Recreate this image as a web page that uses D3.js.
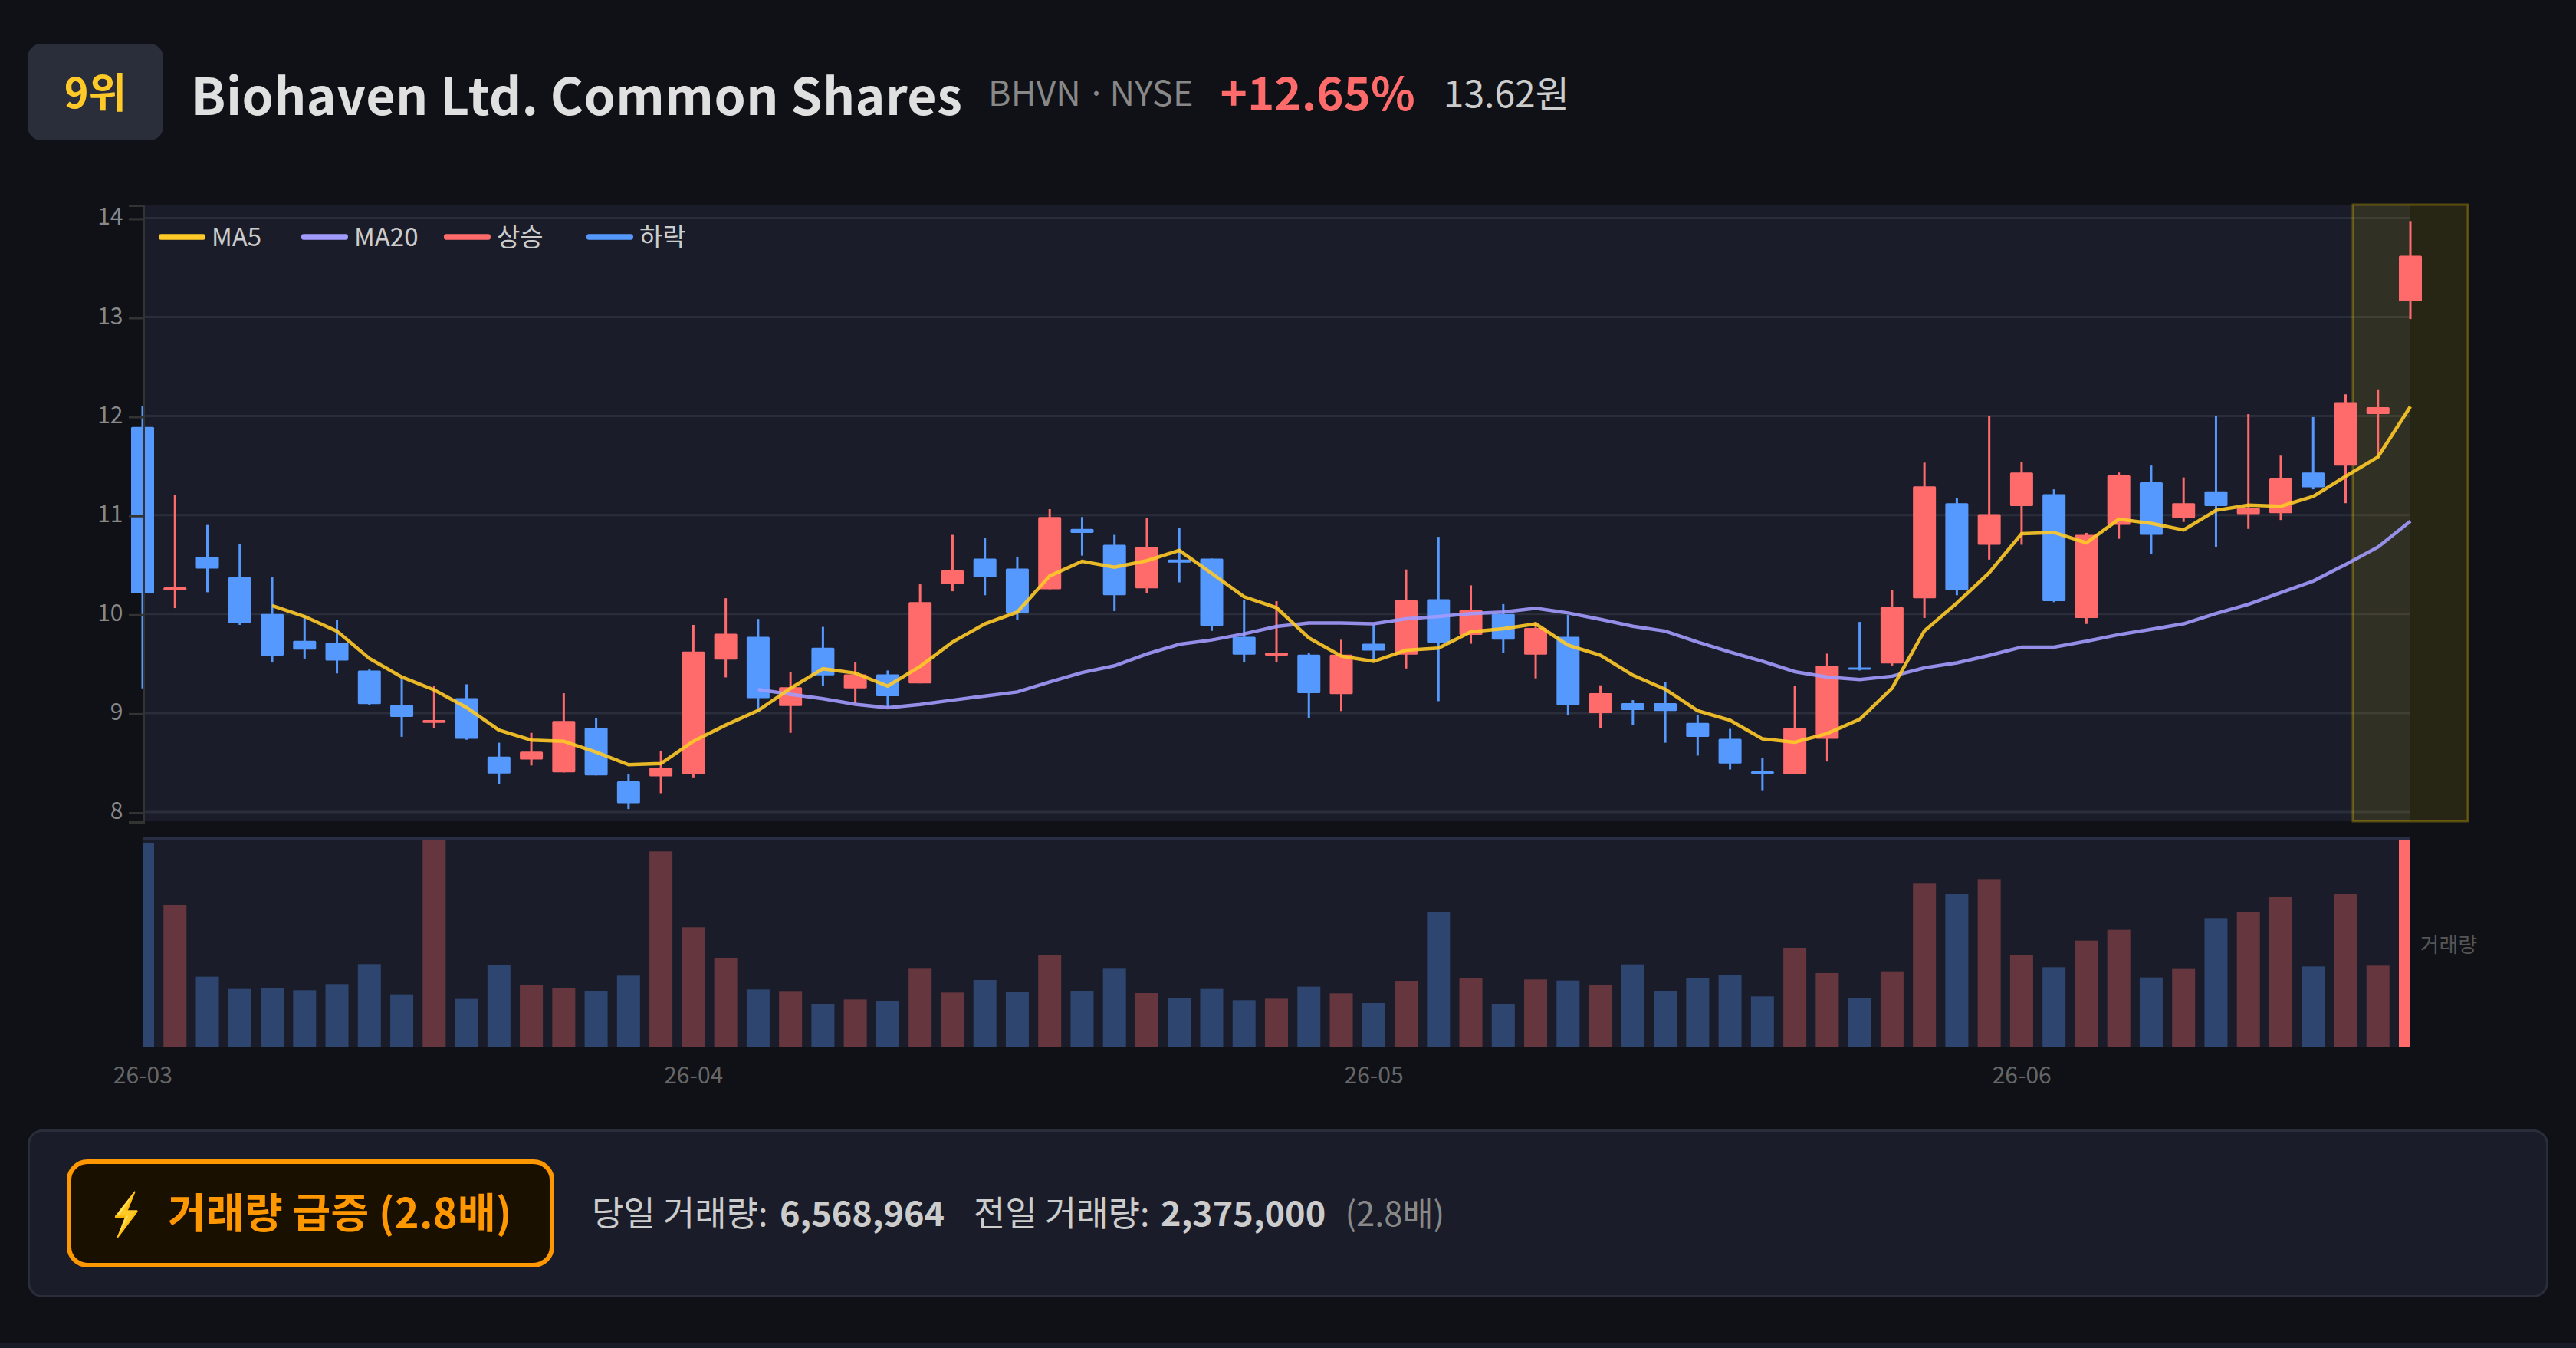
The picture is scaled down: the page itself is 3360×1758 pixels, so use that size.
<!DOCTYPE html>
<html>
<head>
<meta charset="utf-8">
<script src="https://cdn.jsdelivr.net/npm/d3@7"></script>
<style>
html, body { margin: 0; padding: 0; background: #0f1117; overflow: hidden; }
svg { display: block; font-family: "Noto Sans CJK KR", "Noto Sans", sans-serif; }
</style>
</head>
<body>
<div id="chart"></div>
<script>
// trading days, 26-03 to 26-06
const dates = [
    "26-03-09","26-03-10","26-03-11","26-03-12","26-03-13","26-03-16","26-03-17","26-03-18","26-03-19","26-03-20",
    "26-03-23","26-03-24","26-03-25","26-03-26","26-03-27","26-03-30","26-03-31",
    "26-04-01","26-04-02","26-04-06","26-04-07","26-04-08","26-04-09","26-04-10","26-04-13","26-04-14","26-04-15",
    "26-04-16","26-04-17","26-04-20","26-04-21","26-04-22","26-04-23","26-04-24","26-04-27","26-04-28","26-04-29","26-04-30",
    "26-05-01","26-05-04","26-05-05","26-05-06","26-05-07","26-05-08","26-05-11","26-05-12","26-05-13","26-05-14","26-05-15",
    "26-05-18","26-05-19","26-05-20","26-05-21","26-05-22","26-05-26","26-05-27","26-05-28","26-05-29",
    "26-06-01","26-06-02","26-06-03","26-06-04","26-06-05","26-06-08","26-06-09","26-06-10","26-06-11","26-06-12",
    "26-06-15","26-06-16","26-06-17"
];
const monthTicks = ["26-03-09", "26-04-01", "26-05-01", "26-06-01"];
const priceTicks = [8, 9, 10, 11, 12, 13, 14];

const opens = [11.89,10.24,10.58,10.37,10.00,9.73,9.71,9.43,9.08,8.90,9.15,8.56,8.53,8.40,8.85,8.31,8.36,8.38,9.54,9.77,
    9.07,9.66,9.25,9.39,9.30,10.30,10.56,10.46,10.25,10.86,10.70,10.26,10.55,10.56,9.77,9.58,9.59,9.19,9.70,9.59,
    10.15,9.79,10.00,9.59,9.77,9.00,9.10,9.10,8.90,8.74,8.41,8.38,8.74,9.46,9.50,10.16,11.12,10.70,11.09,11.21,
    9.96,10.90,11.33,10.97,11.24,11.01,11.02,11.43,11.50,12.02,13.16];
const closes = [10.21,10.27,10.46,9.91,9.58,9.64,9.53,9.09,8.96,8.93,8.74,8.39,8.61,8.92,8.37,8.09,8.45,9.62,9.80,9.15,
    9.26,9.38,9.39,9.17,10.12,10.44,10.37,10.01,10.98,10.82,10.19,10.68,10.52,9.88,9.59,9.61,9.20,9.59,9.63,10.14,
    9.71,10.04,9.74,9.86,9.08,9.20,9.03,9.02,8.76,8.49,8.39,8.85,9.48,9.44,10.07,11.29,10.24,11.01,11.43,10.13,
    10.80,11.40,10.80,11.12,11.09,11.07,11.37,11.28,12.14,12.09,13.62];
const highs = [12.10,11.20,10.90,10.71,10.37,9.98,9.94,9.44,9.35,9.27,9.29,8.70,8.80,9.20,8.95,8.38,8.62,9.89,10.16,9.95,
    9.41,9.87,9.51,9.43,10.30,10.80,10.77,10.58,11.06,10.98,10.80,10.97,10.87,10.56,10.14,10.13,9.61,9.74,9.89,10.45,
    10.78,10.29,10.10,9.92,9.99,9.28,9.13,9.31,8.98,8.84,8.55,9.27,9.60,9.92,10.24,11.53,11.17,12.00,11.54,11.26,
    10.82,11.43,11.50,11.38,12.00,12.02,11.60,11.99,12.22,12.27,13.97];
const lows = [9.25,10.06,10.22,9.89,9.51,9.55,9.40,9.08,8.76,8.85,8.73,8.28,8.47,8.40,8.37,8.03,8.19,8.35,9.36,9.01,
    8.80,9.27,9.10,9.06,9.30,10.23,10.19,9.94,10.25,10.59,10.03,10.21,10.32,9.83,9.51,9.51,8.95,9.02,9.53,9.45,
    9.12,9.70,9.61,9.35,8.98,8.85,8.88,8.70,8.57,8.43,8.22,8.38,8.51,9.43,9.48,9.96,10.19,10.55,10.70,10.12,
    9.90,10.76,10.61,10.93,10.68,10.86,10.95,11.26,11.12,11.58,12.98];
const volumes = [5979000,4158000,2053000,1693000,1731000,1656000,1836000,2420000,1536000,6300000,1401000,2405000,1821000,1716000,
    1641000,2083000,5724000,3499000,2600000,1678000,1611000,1251000,1386000,1349000,2285000,1588000,1955000,1596000,2690000,
    1618000,2285000,1573000,1431000,1693000,1364000,1408000,1761000,1566000,1281000,1910000,3933000,2023000,1251000,1970000,
    1940000,1821000,2412000,1633000,2015000,2105000,1476000,2899000,2158000,1431000,2210000,4780000,4473000,4892000,2697000,
    2330000,3109000,3424000,2030000,2278000,3768000,3933000,4383000,2352000,4473000,2375000,6568964];

// moving averages start at day 5 and day 20
const ma5 = [10.085,9.975,9.827,9.551,9.364,9.234,9.056,8.828,8.727,8.715,8.605,8.478,8.490,8.715,8.878,9.026,9.249,9.447,9.403,9.272,
    9.471,9.717,9.901,10.020,10.385,10.533,10.474,10.539,10.643,10.411,10.174,10.064,9.759,9.575,9.522,9.634,9.655,9.821,9.851,9.901,
    9.685,9.584,9.382,9.240,9.023,8.927,8.739,8.705,8.793,8.936,9.251,9.830,10.111,10.417,10.812,10.824,10.719,10.958,10.916,10.849,
    11.047,11.101,11.089,11.189,11.391,11.588,12.096];
const ma20 = [9.237,9.189,9.145,9.089,9.053,9.086,9.130,9.172,9.213,9.314,9.409,9.477,9.596,9.694,9.738,9.800,9.875,9.910,9.910,9.901,
    9.952,9.975,10.005,10.020,10.058,10.011,9.946,9.877,9.827,9.717,9.616,9.523,9.418,9.364,9.339,9.372,9.456,9.507,9.582,9.666,
    9.666,9.725,9.792,9.846,9.901,10.006,10.098,10.216,10.333,10.501,10.677,10.937];

const legendNames = ["MA5", "MA20", "상승", "하락"];

const upColor = "#ff6b6b";
const downColor = "#5599ff";
const legendColors = ["#ffca28", "#a29bfe", upColor, downColor];
const fontName = '"Noto Sans CJK KR", "Noto Sans", sans-serif';

// everything below is laid out at 1120 wide and shown 3x
const svg = d3.select("#chart")
    .append("svg")
    .attr("width", 3360)
    .attr("height", 1758)
    .attr("viewBox", "0 0 1120 586");

const plotLeft = 62, plotRight = 1048;
const priceTop = 89, priceBottom = 357;
const volTop = 365, volBottom = 455;
const bodyWidth = 10;

const xScale = d3.scalePoint().domain(dates).range([plotLeft, plotRight]);
const yScale = d3.scaleLinear().domain([7.907, 14.135]).range([priceBottom, priceTop]);
const volScale = d3.scaleLinear().domain([0, 6068000]).range([volBottom, volTop]).clamp(true);

svg.append("rect").attr("width", 1120).attr("height", 586).attr("fill", "#0f1117");

// header
svg.append("rect").attr("x", 12).attr("y", 19).attr("width", 59).attr("height", 42).attr("rx", 6).attr("fill", "#2a2e3a");
svg.append("text").attr("x", 41.5).attr("y", 47).attr("text-anchor", "middle")
    .attr("font-size", 18).attr("font-weight", 700).attr("fill", "#ffca28").text("9위");
svg.append("text").attr("x", 83.2).attr("y", 50).attr("letter-spacing", 0.14)
    .attr("font-size", 22).attr("font-weight", 700).attr("fill", "#e0e0e0").text("Biohaven Ltd. Common Shares");
const ticker = svg.append("text").attr("x", 429.7).attr("y", 46)
    .attr("font-size", 15).attr("fill", "#888").text("BHVN ");
ticker.append("tspan").attr("dx", -0.85).text("· ");
ticker.append("tspan").attr("dx", -1.75).text("NYSE");
svg.append("text").attr("x", 530.5).attr("y", 48)
    .attr("font-size", 20).attr("font-weight", 700).attr("fill", upColor).text("+12.65%");
svg.append("text").attr("x", 627.6).attr("y", 46.5)
    .attr("font-size", 16).attr("fill", "#ccc").text("13.62원");

// panels
svg.append("rect").attr("x", plotLeft).attr("y", priceTop).attr("width", plotRight - plotLeft).attr("height", priceBottom - priceTop).attr("fill", "#1a1d29");
svg.append("rect").attr("x", plotLeft).attr("y", volTop).attr("width", plotRight - plotLeft).attr("height", volBottom - volTop).attr("fill", "#1a1d29");
svg.append("line").attr("x1", plotLeft).attr("x2", plotRight).attr("y1", volTop - 0.5).attr("y2", volTop - 0.5).attr("stroke", "#2a2e45");

svg.selectAll(".grid")
    .data(priceTicks)
    .enter()
    .append("line")
    .attr("class", "grid")
    .attr("x1", plotLeft)
    .attr("x2", plotRight)
    .attr("y1", d => yScale(d))
    .attr("y2", d => yScale(d))
    .attr("stroke", "#2a2e3a");

// today's highlight band
const lastDate = dates[dates.length - 1];
svg.append("rect")
    .attr("x", xScale(lastDate) - 25)
    .attr("y", priceTop)
    .attr("width", 50)
    .attr("height", priceBottom - priceTop)
    .attr("fill", "rgba(255,215,0,0.1)")
    .attr("stroke", "rgba(255,215,0,0.3)");

// candles
const candles = svg.append("g").selectAll("g")
    .data(dates)
    .enter()
    .append("g");

candles.append("line")
    .attr("x1", d => xScale(d))
    .attr("x2", d => xScale(d))
    .attr("y1", (d, i) => yScale(highs[i]))
    .attr("y2", (d, i) => yScale(lows[i]))
    .attr("stroke", (d, i) => closes[i] >= opens[i] ? upColor : downColor);

candles.append("rect")
    .attr("x", d => xScale(d) - bodyWidth / 2)
    .attr("y", (d, i) => yScale(Math.max(opens[i], closes[i])))
    .attr("width", bodyWidth)
    .attr("height", (d, i) => Math.max(1, Math.abs(yScale(opens[i]) - yScale(closes[i]))))
    .attr("rx", 0.5)
    .attr("fill", (d, i) => closes[i] >= opens[i] ? upColor : downColor);

// moving averages
const ma5Line = d3.line().x((d, i) => xScale(dates[i + 4])).y(d => yScale(d));
const ma20Line = d3.line().x((d, i) => xScale(dates[i + 19])).y(d => yScale(d));

svg.append("path").attr("d", ma20Line(ma20)).attr("fill", "none")
    .attr("stroke", legendColors[1]).attr("stroke-width", 1.5).attr("opacity", 0.9);
svg.append("path").attr("d", ma5Line(ma5)).attr("fill", "none")
    .attr("stroke", legendColors[0]).attr("stroke-width", 1.5).attr("opacity", 0.9);

// axes sit on top of the first candle
const yAxis = svg.append("g")
    .attr("transform", `translate(${plotLeft}, 0)`)
    .call(d3.axisLeft(yScale).tickValues(priceTicks).tickFormat(d3.format("d")))
    .attr("font-family", fontName);
yAxis.selectAll("path, line").attr("stroke", "#333");
yAxis.selectAll("text").attr("fill", "#888").attr("x", -8.5).attr("dy", "0.25em");

const xAxis = svg.append("g")
    .attr("transform", `translate(-0.4, ${volBottom})`)
    .call(d3.axisBottom(xScale).tickValues(monthTicks).tickFormat(d => d.slice(0, 5)))
    .attr("font-family", fontName);
xAxis.selectAll("path, line").remove();
xAxis.selectAll("text").attr("fill", "#666");

// legend
const legend = svg.append("g").selectAll("g")
    .data(legendNames)
    .enter()
    .append("g")
    .attr("transform", (d, i) => `translate(${69 + i * 62}, 103)`);

legend.append("rect")
    .attr("y", -1.25)
    .attr("width", 20.3)
    .attr("height", 2.5)
    .attr("rx", 1)
    .attr("fill", (d, i) => legendColors[i]);

legend.append("text")
    .attr("x", 23)
    .attr("y", 4)
    .attr("font-size", 11)
    .attr("fill", "#ccc")
    .text(d => d);

// volume
svg.append("clipPath").attr("id", "volClip")
    .append("rect")
    .attr("x", plotLeft)
    .attr("y", volTop)
    .attr("width", plotRight - plotLeft)
    .attr("height", volBottom - volTop);

svg.append("g").attr("clip-path", "url(#volClip)").selectAll("rect")
    .data(dates)
    .enter()
    .append("rect")
    .attr("x", d => xScale(d) - bodyWidth / 2)
    .attr("y", (d, i) => volScale(volumes[i]))
    .attr("width", bodyWidth)
    .attr("height", (d, i) => volBottom - volScale(volumes[i]))
    .attr("fill", (d, i) => closes[i] >= opens[i] ? upColor : downColor)
    .attr("opacity", d => d === lastDate ? 1 : 0.33);

svg.append("text").attr("x", 1052.2).attr("y", 414)
    .attr("font-size", 9).attr("fill", "#555").text("거래량");

// alert card
svg.append("rect").attr("x", 12.5).attr("y", 491.5).attr("width", 1095).attr("height", 72).attr("rx", 6)
    .attr("fill", "#1a1d29").attr("stroke", "#2a2e3a");
svg.append("rect").attr("x", 30).attr("y", 505).attr("width", 210).attr("height", 45).attr("rx", 8)
    .attr("fill", "#1a1000").attr("stroke", "#ff9800").attr("stroke-width", 2);
svg.append("text")
    .attr("transform", "translate(47.5, 534) scale(0.65, 1)")
    .attr("font-size", 18).attr("font-weight", 700)
    .attr("fill", "#fff59d").attr("stroke", "#ff9800").attr("stroke-width", 0.6).attr("paint-order", "stroke")
    .text("⚡");
svg.append("text").attr("x", 73).attr("y", 534).attr("letter-spacing", 0.1)
    .attr("font-size", 18).attr("font-weight", 700).attr("fill", "#ff9800").text("거래량 급증 (2.8배)");

const cardText = [
    ["당일 거래량:", 257.3, 400, "#ccc", 15],
    ["6,568,964", 339, 700, "#ccc", 15],
    ["전일 거래량:", 423.3, 400, "#ccc", 15],
    ["2,375,000", 504.7, 700, "#ccc", 15],
    ["(2.8배)", 584.8, 400, "#888", 14.5]
];
svg.selectAll(".cardText")
    .data(cardText)
    .enter()
    .append("text")
    .attr("class", "cardText")
    .attr("x", d => d[1])
    .attr("y", 533)
    .attr("font-size", d => d[4])
    .attr("font-weight", d => d[2])
    .attr("fill", d => d[3])
    .text(d => d[0]);

// top edge of the next card
svg.append("rect").attr("x", 0).attr("y", 584).attr("width", 1120).attr("height", 2).attr("fill", "#1a1d29");
</script>
</body>
</html>
